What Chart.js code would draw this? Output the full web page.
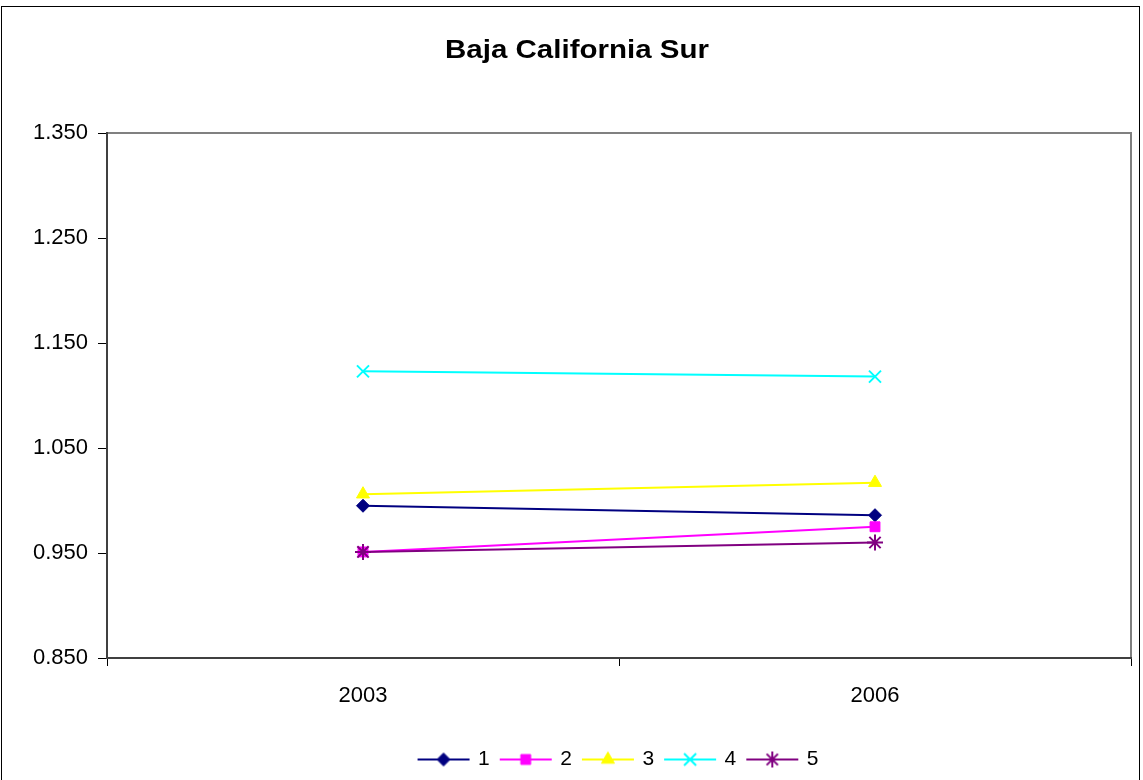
<!DOCTYPE html>
<html>
<head>
<meta charset="utf-8">
<script src="https://cdn.jsdelivr.net/npm/chart.js@4/dist/chart.umd.min.js"></script>
<style>
  html, body { margin: 0; padding: 0; background: #fff; }
  #wrap { width: 1143px; height: 780px; }
</style>
</head>
<body>
<div id="wrap"><canvas id="grafico"></canvas></div>
<script>
// Datos
const anios = ['2003', '2006'];
const serie1 = [0.995, 0.986];
const serie2 = [0.951, 0.975];
const serie3 = [1.006, 1.017];
const serie4 = [1.123, 1.118];
const serie5 = [0.951, 0.960];
const nombres = ['1', '2', '3', '4', '5'];
const ticksY = [0.85, 0.95, 1.05, 1.15, 1.25, 1.35];

const colores = ['#000080', '#FF00FF', '#FFFF00', '#00FFFF', '#800080'];
const estilos = ['rectRot', 'rect', 'triangle', 'crossRot', 'star'];
const radios = [6.5, 7, 7.5, 8.5, 8];
const series = [serie1, serie2, serie3, serie4, serie5];

const fuente = "Arial, 'Liberation Sans', sans-serif";

// Marca de la leyenda: linea + punto
function marcaLeyenda(i) {
  const c = document.createElement('canvas');
  c.width = 54; c.height = 18;
  const g = c.getContext('2d');
  g.strokeStyle = colores[i];
  g.fillStyle = colores[i];
  g.lineWidth = 2;
  g.beginPath();
  g.moveTo(1, 9); g.lineTo(53, 9);
  g.stroke();
  g.lineWidth = (i >= 3) ? 2 : 1;
  Chart.helpers.drawPoint(g, {
    pointStyle: estilos[i],
    radius: radios[i],
    borderWidth: (i >= 3) ? 2 : 1,
    rotation: 0
  }, 27, 9);
  return c;
}

const datasets = series.map((s, i) => ({
  label: nombres[i],
  data: s,
  borderColor: colores[i],
  backgroundColor: colores[i],
  borderWidth: 2,
  pointStyle: estilos[i],
  pointRadius: radios[i],
  pointHoverRadius: radios[i],
  pointBorderWidth: (i >= 3) ? 2 : 1,
  pointBackgroundColor: colores[i],
  pointBorderColor: colores[i],
  tension: 0,
  order: series.length - i
}));

const marcoPlugin = {
  id: 'marco',
  beforeDraw(chart) {
    const c = chart.ctx;
    const a = chart.chartArea;
    c.save();
    c.fillStyle = '#fff';
    c.fillRect(0, 0, chart.width, chart.height);
    c.strokeStyle = '#000';
    c.lineWidth = 1;
    c.strokeRect(1.5, 6.5, 1138, 800);
    c.strokeStyle = '#808080';
    c.lineWidth = 2;
    c.strokeRect(a.left, a.top, a.right - a.left, a.bottom - a.top);
    c.restore();
  },
  afterDraw(chart) {
    // Titulo (un poco ensanchado como en el original)
    const c = chart.ctx;
    c.save();
    c.fillStyle = '#000';
    c.font = 'bold 25px ' + fuente;
    c.textAlign = 'center';
    c.textBaseline = 'alphabetic';
    c.translate(577, 58);
    c.scale(1.18, 1);
    c.fillText('Baja California Sur', 0, 0);
    c.restore();
  }
};

const ctx = document.getElementById('grafico').getContext('2d');

const chart = new Chart(ctx, {
  type: 'line',
  data: { labels: anios, datasets: datasets },
  plugins: [marcoPlugin],
  options: {
    responsive: true,
    maintainAspectRatio: false,
    animation: false,
    layout: { padding: { top: 133, right: 12, bottom: 0, left: 0 } },
    plugins: {
      title: { display: false },
      tooltip: { enabled: false },
      legend: {
        position: 'bottom',
        fullSize: false,
        labels: {
          usePointStyle: true,
          pointStyleWidth: 48,
          padding: 12,
          color: '#000',
          font: { family: fuente, size: 21 },
          generateLabels: (ch) => ch.data.datasets.map((d, i) => ({
            text: d.label,
            pointStyle: marcaLeyenda(i),
            fillStyle: colores[i],
            strokeStyle: colores[i],
            lineWidth: 0,
            fontColor: '#000',
            hidden: false,
            datasetIndex: i
          }))
        }
      }
    },
    scales: {
      x: {
        offset: true,
        afterFit: (s) => { s.height = 79; },
        grid: {
          offset: true,
          drawOnChartArea: false,
          drawTicks: true,
          tickLength: 8,
          color: '#000'
        },
        border: { color: '#404040', width: 2 },
        ticks: {
          color: '#000',
          padding: 17,
          font: { family: fuente, size: 22 }
        }
      },
      y: {
        min: 0.85,
        max: 1.35,
        afterFit: (s) => { s.width = 107; },
        afterBuildTicks: (s) => { s.ticks = ticksY.map(v => ({ value: v })); },
        grid: {
          drawOnChartArea: false,
          drawTicks: true,
          tickLength: 9,
          color: '#000'
        },
        border: { color: '#404040', width: 2 },
        ticks: {
          color: '#000',
          padding: 10,
          font: { family: fuente, size: 22 },
          callback: (v) => Number(v).toFixed(3)
        }
      }
    }
  }
});
</script>
</body>
</html>
